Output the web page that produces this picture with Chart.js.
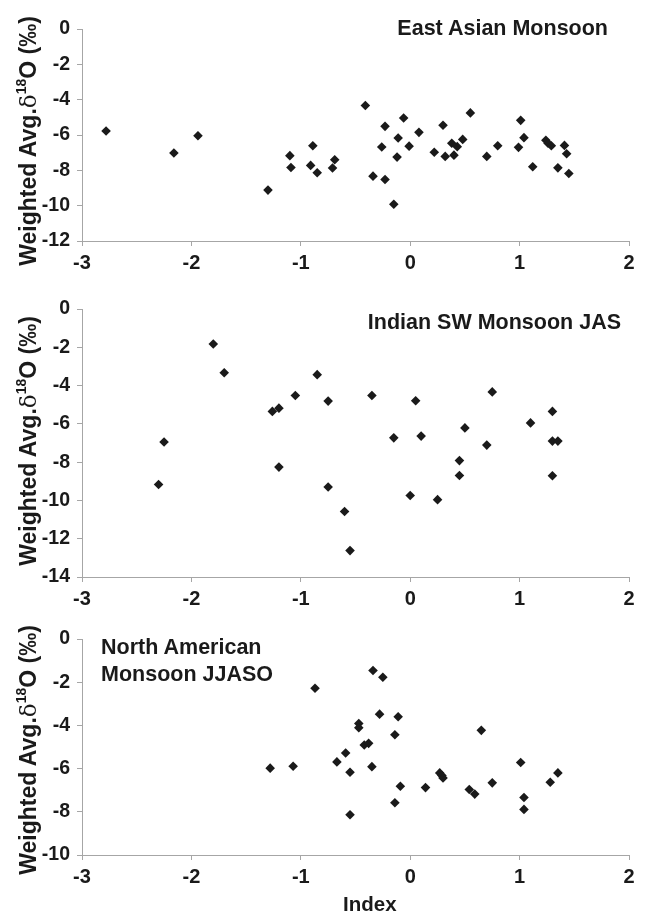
<!DOCTYPE html>
<html>
<head>
<meta charset="utf-8">
<script src="https://cdn.jsdelivr.net/npm/chart.js@4.4.0/dist/chart.umd.min.js"></script>
<style>
    body { margin: 0; background: #fff; }
    #page { position: relative; width: 659px; height: 914px; overflow: hidden; }
    canvas { position: absolute; left: 0; }
    .txt { position: absolute; font-family: "Liberation Sans", Arial, sans-serif; font-weight: bold; color: #1a1a1a; white-space: nowrap; }
    .title { font-size: 21.5px; line-height: 21px; }
    .ylab { width: 300px; height: 26px; line-height: 26px; font-size: 23px; text-align: center; transform: rotate(-90deg); }
    .ylab .d { font-family: "DejaVu Serif", "Liberation Serif", serif; font-weight: normal; }
    .ylab sup { font-size: 14px; position: relative; top: -1px; }
</style>
</head>
<body>
<div id="page">
    <canvas id="eastChart" width="659" height="290" style="top:0px"></canvas>
    <canvas id="indianChart" width="659" height="330" style="top:290px"></canvas>
    <canvas id="northChart" width="659" height="304" style="top:610px"></canvas>

    <div class="txt title" style="right:51px; top:18px">East Asian Monsoon</div>
    <div class="txt title" style="right:38px; top:312px">Indian SW Monsoon JAS</div>
    <div class="txt title" style="left:101px; top:634px; line-height:27px">North American<br>Monsoon JJASO</div>

    <div class="txt ylab" style="left:-128px; top:128px">Weighted Avg.<span class="d">δ</span><sup>18</sup>O (‰)</div>
    <div class="txt ylab" style="left:-128px; top:428px">Weighted Avg.<span class="d">δ</span><sup>18</sup>O (‰)</div>
    <div class="txt ylab" style="left:-128px; top:737px">Weighted Avg.<span class="d">δ</span><sup>18</sup>O (‰)</div>

    <div class="txt title" style="left:343px; top:893px; font-size:20.5px">Index</div>
</div>

<script>
// East Asian Monsoon
const eastIndex = [-2.78, -2.16, -1.94, -1.30, -1.10, -1.09, -0.89, -0.91, -0.85, -0.69, -0.71,
    -0.41, -0.34, -0.26, -0.23, -0.23, -0.15, -0.11, -0.12, -0.06, -0.01, 0.08, 0.22, 0.30,
    0.32, 0.38, 0.40, 0.43, 0.48, 0.55, 0.70, 0.80, 0.99, 1.01, 1.04, 1.12, 1.24, 1.26, 1.29,
    1.35, 1.41, 1.43, 1.45];
const eastD18O = [-5.77, -7.02, -6.04, -9.12, -7.17, -7.84, -6.61, -7.72, -8.14, -7.40, -7.87,
    -4.33, -8.33, -6.68, -5.51, -8.52, -9.92, -6.17, -7.25, -5.04, -6.63, -5.85, -6.98, -5.45,
    -7.21, -6.47, -7.14, -6.66, -6.25, -4.75, -7.21, -6.61, -6.70, -5.17, -6.15, -7.80, -6.30,
    -6.47, -6.61, -7.86, -6.59, -7.06, -8.18];

// Indian SW Monsoon JAS
const indianIndex = [-2.30, -2.25, -1.80, -1.70, -1.26, -1.20, -1.20, -1.05, -0.85, -0.75, -0.75,
    -0.60, -0.55, -0.35, -0.15, 0.00, 0.05, 0.10, 0.25, 0.45, 0.45, 0.50, 0.70, 0.75, 1.10,
    1.30, 1.30, 1.35, 1.30];
const indianD18O = [-9.17, -6.95, -1.83, -3.33, -5.35, -5.18, -8.26, -4.52, -3.43, -4.81, -9.30,
    -10.58, -12.62, -4.52, -6.73, -9.74, -4.79, -6.64, -9.96, -7.92, -8.70, -6.21, -7.11, -4.33,
    -5.95, -5.35, -6.90, -6.90, -8.71];

// North American Monsoon JJASO
const northIndex = [-1.28, -1.07, -0.87, -0.67, -0.59, -0.55, -0.55, -0.47, -0.47, -0.42, -0.38,
    -0.35, -0.34, -0.28, -0.25, -0.14, -0.14, -0.11, -0.09, 0.14, 0.27, 0.29, 0.30, 0.54, 0.59,
    0.65, 0.75, 1.01, 1.04, 1.04, 1.28, 1.35];
const northD18O = [-5.98, -5.89, -2.28, -5.69, -5.28, -6.17, -8.14, -3.91, -4.11, -4.91, -4.83,
    -5.91, -1.46, -3.48, -1.77, -4.43, -7.58, -3.60, -6.82, -6.88, -6.20, -6.32, -6.43, -6.97,
    -7.18, -4.23, -6.66, -5.72, -7.34, -7.89, -6.63, -6.20];

const xTicks = [-3, -2, -1, 0, 1, 2];

const axisColor = '#a6a6a6';
const textColor = '#1a1a1a';
const fontFamily = '"Liberation Sans", Arial, sans-serif';

function renderPanel(id, xs, ys, yMin, top, xAxisHeight) {
    const ctx = document.getElementById(id).getContext('2d');

    new Chart(ctx, {
        type: 'scatter',
        data: {
            datasets: [{
                data: xs.map((x, i) => ({ x: x, y: ys[i] })),
                pointStyle: 'rectRot',
                pointRadius: 4.8,
                pointHoverRadius: 4.8,
                backgroundColor: '#1a1a1a',
                borderWidth: 0
            }]
        },
        options: {
            responsive: false,
            animation: false,
            events: [],
            layout: {
                padding: { top: top, right: 30, left: 0, bottom: 0 }
            },
            plugins: {
                legend: { display: false },
                tooltip: { enabled: false }
            },
            scales: {
                x: {
                    type: 'linear',
                    min: -3,
                    max: 2,
                    afterFit: scale => { scale.height = xAxisHeight; },
                    afterBuildTicks: scale => { scale.ticks = xTicks.map(v => ({ value: v })); },
                    grid: { drawOnChartArea: false, tickLength: 5, color: axisColor },
                    border: { color: axisColor, width: 1 },
                    ticks: {
                        color: textColor,
                        padding: 5,
                        maxRotation: 0,
                        font: { family: fontFamily, size: 20, weight: 'bold' }
                    }
                },
                y: {
                    min: yMin,
                    max: 0,
                    afterFit: scale => { scale.width = 82; },
                    grid: { drawOnChartArea: false, tickLength: 5, color: axisColor },
                    border: { color: axisColor, width: 1 },
                    ticks: {
                        stepSize: 2,
                        color: textColor,
                        padding: 7,
                        font: { family: fontFamily, size: 19.5, weight: 'bold' }
                    }
                }
            }
        }
    });
}

renderPanel('eastChart', eastIndex, eastD18O, -12, 29, 49);
renderPanel('indianChart', indianIndex, indianD18O, -14, 19, 43);
renderPanel('northChart', northIndex, northD18O, -10, 29, 59);
</script>
</body>
</html>
